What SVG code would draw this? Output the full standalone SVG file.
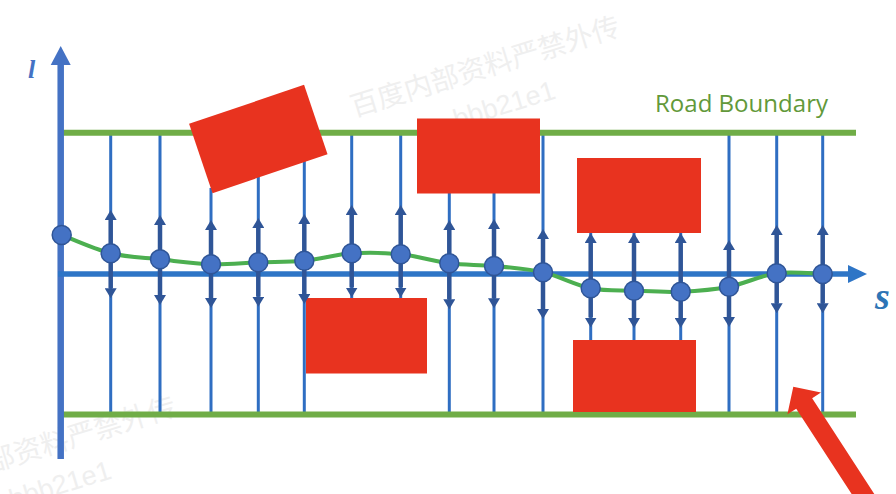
<svg xmlns="http://www.w3.org/2000/svg" width="896" height="494" viewBox="0 0 896 494">
  <style>
    .wm { font-family: "Noto Sans CJK SC", "Noto Sans", sans-serif; font-size: 28px; fill: #efefef; }
    .wml { font-family: "Liberation Sans", Arial, sans-serif; font-size: 27px; fill: #efefef; }
    .thin { stroke: #2F6EC2; stroke-width: 3; fill: none; }
    .bound { stroke: #70AD47; stroke-width: 6; fill: none; }
    .dark { stroke: #2F5597; stroke-width: 4.5; fill: none; marker-start: url(#ah); marker-end: url(#ah); }
    .obs { fill: #E8331F; }
    .dot { fill: #4472C4; stroke: #2F5597; stroke-width: 1.5; }
    .curve { stroke: #4CAF50; stroke-width: 4; fill: none; }
  </style>
  <defs>
    <marker id="ah" viewBox="0 -6 10 12" refX="0" refY="0" markerWidth="10" markerHeight="12" markerUnits="userSpaceOnUse" orient="auto-start-reverse">
      <path d="M0,-6 L10,0 L0,6 Z" fill="#2F5597"/>
    </marker>
  </defs>
  <rect width="896" height="494" fill="#ffffff"/>

  <g id="watermarks">
    <text class="wm" transform="translate(354 117) rotate(-17)">百度内部资料严禁外传</text>
    <text class="wml" text-anchor="end" transform="translate(557 98) rotate(-17)">bbb21e1</text>
    <text class="wm" transform="translate(-90 497) rotate(-17)">百度内部资料严禁外传</text>
    <text class="wml" text-anchor="end" transform="translate(113 478) rotate(-17)">bbb21e1</text>
  </g>

  <g id="connectors">
    <g id="rays">
      <line class="thin" x1="110.7" y1="133" x2="110.7" y2="414"/>
      <line class="thin" x1="160" y1="133" x2="160" y2="414"/>
      <line class="thin" x1="211" y1="188" x2="211" y2="414"/>
      <line class="thin" x1="258.3" y1="172" x2="258.3" y2="414"/>
      <line class="thin" x1="304.3" y1="158" x2="304.3" y2="414"/>
      <line class="thin" x1="351.7" y1="133" x2="351.7" y2="299"/>
      <line class="thin" x1="400.7" y1="133" x2="400.7" y2="299"/>
      <line class="thin" x1="449.3" y1="190" x2="449.3" y2="414"/>
      <line class="thin" x1="494" y1="190" x2="494" y2="414"/>
      <line class="thin" x1="543" y1="133" x2="543" y2="414"/>
      <line class="thin" x1="590.7" y1="230" x2="590.7" y2="342"/>
      <line class="thin" x1="634" y1="230" x2="634" y2="342"/>
      <line class="thin" x1="680.7" y1="230" x2="680.7" y2="342"/>
      <line class="thin" x1="729" y1="133" x2="729" y2="414"/>
      <line class="thin" x1="776.7" y1="133" x2="776.7" y2="414"/>
      <line class="thin" x1="822.7" y1="133" x2="822.7" y2="414"/>
    </g>
  </g>

  <g id="road-boundaries">
    <line class="bound" x1="63" y1="132.7" x2="856" y2="132.7"/>
    <line class="bound" x1="63" y1="414.5" x2="856" y2="414.5"/>
  </g>

  <g id="obstacles">
    <rect id="obstacle-1" class="obs" x="-60.7" y="-36.6" width="121.4" height="73.2" transform="translate(258.3 139) rotate(-18.7)"/>
    <rect id="obstacle-2" class="obs" x="417" y="118.5" width="123" height="75"/>
    <rect id="obstacle-3" class="obs" x="577" y="158" width="124" height="75"/>
    <rect id="obstacle-4" class="obs" x="306" y="298" width="121" height="75.5"/>
    <rect id="obstacle-5" class="obs" x="573" y="340" width="123" height="72"/>
  </g>

  <g id="axes">
    <line x1="60.7" y1="459" x2="60.7" y2="64" stroke="#4472C4" stroke-width="6.5"/>
    <polygon points="50.7,65 60.7,46 70.7,65" fill="#4472C4"/>
    <line x1="58" y1="274" x2="849" y2="274" stroke="#2E75C6" stroke-width="5.5"/>
    <polygon points="848,265 867,274 848,283" fill="#2E75C6"/>
  </g>

  <path id="path-curve" class="curve" d="M61.7,235 C69.9,238.1 94.3,249.3 110.7,253.3 C127.1,257.35 143.3,257.5 160,259.3 C176.7,261.1 194.6,263.8 211,264.3 C227.4,264.8 242.75,262.9 258.3,262.3 C273.85,261.7 288.7,262.2 304.3,260.7 C319.9,259.2 335.6,254.4 351.7,253.3 C367.8,252.2 384.4,252.6 400.7,254.3 C417,256 433.75,261.35 449.3,263.3 C464.85,265.25 478.4,264.5 494,266 C509.6,267.5 526.9,268.6 543,272.3 C559.1,276 575.5,285.2 590.7,288.3 C605.9,291.4 619,290.1 634,290.7 C649,291.3 664.9,292.4 680.7,291.7 C696.5,291 713,289.8 729,286.7 C745,283.6 761.1,275.4 776.7,273.3 C792.3,271.2 815,273.9 822.7,274"/>

  <g id="lateral-arrows">
    <line class="dark" x1="110.7" y1="220" x2="110.7" y2="288.3"/>
    <line class="dark" x1="160" y1="225" x2="160" y2="295"/>
    <line class="dark" x1="211" y1="230" x2="211" y2="298"/>
    <line class="dark" x1="258.3" y1="228" x2="258.3" y2="296.7"/>
    <line class="dark" x1="304.3" y1="224" x2="304.3" y2="294"/>
    <line class="dark" x1="351.7" y1="215" x2="351.7" y2="287.5"/>
    <line class="dark" x1="400.7" y1="215" x2="400.7" y2="287.5"/>
    <line class="dark" x1="449.3" y1="230" x2="449.3" y2="299.3"/>
    <line class="dark" x1="494" y1="229" x2="494" y2="298.3"/>
    <line class="dark" x1="543" y1="239" x2="543" y2="309"/>
    <line class="dark" x1="590.7" y1="243" x2="590.7" y2="317.5"/>
    <line class="dark" x1="634" y1="243" x2="634" y2="318"/>
    <line class="dark" x1="680.7" y1="243" x2="680.7" y2="318"/>
    <line class="dark" x1="729" y1="250" x2="729" y2="317"/>
    <line class="dark" x1="776.7" y1="235" x2="776.7" y2="303.3"/>
    <line class="dark" x1="822.7" y1="235" x2="822.7" y2="303.3"/>
  </g>

  <g id="samples">
    <g id="pt-0"><circle class="dot" cx="61.7" cy="235" r="9.5"/></g>
    <g id="pt-1"><circle class="dot" cx="110.7" cy="253.3" r="9.5"/></g>
    <g id="pt-2"><circle class="dot" cx="160" cy="259.3" r="9.5"/></g>
    <g id="pt-3"><circle class="dot" cx="211" cy="264.3" r="9.5"/></g>
    <g id="pt-4"><circle class="dot" cx="258.3" cy="262.3" r="9.5"/></g>
    <g id="pt-5"><circle class="dot" cx="304.3" cy="260.7" r="9.5"/></g>
    <g id="pt-6"><circle class="dot" cx="351.7" cy="253.3" r="9.5"/></g>
    <g id="pt-7"><circle class="dot" cx="400.7" cy="254.3" r="9.5"/></g>
    <g id="pt-8"><circle class="dot" cx="449.3" cy="263.3" r="9.5"/></g>
    <g id="pt-9"><circle class="dot" cx="494" cy="266" r="9.5"/></g>
    <g id="pt-10"><circle class="dot" cx="543" cy="272.3" r="9.5"/></g>
    <g id="pt-11"><circle class="dot" cx="590.7" cy="288.3" r="9.5"/></g>
    <g id="pt-12"><circle class="dot" cx="634" cy="290.7" r="9.5"/></g>
    <g id="pt-13"><circle class="dot" cx="680.7" cy="291.7" r="9.5"/></g>
    <g id="pt-14"><circle class="dot" cx="729" cy="286.7" r="9.5"/></g>
    <g id="pt-15"><circle class="dot" cx="776.7" cy="273.3" r="9.5"/></g>
    <g id="pt-16"><circle class="dot" cx="822.7" cy="274" r="9.5"/></g>
  </g>

  <g id="pointer-arrow">
    <polygon points="0,0 20,-20 20,-9.5 170,-9.5 170,9.5 20,9.5 20,20" fill="#E8331F" transform="translate(793.3 386.7) rotate(57)"/>
  </g>

  <g id="labels">
    <text x="28" y="78" font-family="Liberation Serif, serif" font-style="italic" font-weight="bold" font-size="26" fill="#4472C4">l</text>
    <text x="875" y="309" font-family="Liberation Serif, serif" font-style="italic" font-weight="bold" font-size="38" fill="#2E75B6">s</text>
    <text x="655" y="111.5" font-family="Open Sans, Liberation Sans, sans-serif" font-size="23" fill="#62993A" textLength="173" lengthAdjust="spacingAndGlyphs">Road Boundary</text>
  </g>
</svg>
